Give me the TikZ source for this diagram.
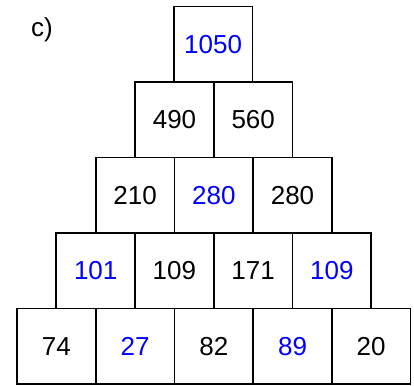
\documentclass[tikz,border=0pt]{standalone}
\usepackage{fontspec}
\setmainfont{Liberation Sans}
\usepackage{xcolor}
\usetikzlibrary{positioning}

\tikzset{
  cell/.style={draw, line width=1.8pt, minimum width=78.7pt, minimum height=75.5pt,
    inner sep=0pt, outer sep=0pt, font=\fontsize{26}{31}\selectfont},
  given/.style={cell, text=black},
  found/.style={cell, text=blue}
}

\begin{document}
\begin{tikzpicture}[x=1pt,y=-1pt]
        \useasboundingbox (0,0) rectangle (414,385);

        % Label
        \node[font=\fontsize{26}{31}\selectfont] (lbl) at (42,30) {c)};

        % Top row
        \node[found] (e1) at (213.1,44.3) {1050};

        % Second row
        \node[given] (d1) at (174.5,119.8) {490};
        \node[given] (d2) at (253.2,119.8) {560};

        % Third row
        \node[given] (c1) at (135.1,195.3) {210};
        \node[found] (c2) at (213.8,195.3) {280};
        \node[given] (c3) at (292.5,195.3) {280};

        % Fourth row
        \node[found] (b1) at (95.7,270.8) {101};
        \node[given] (b2) at (174.4,270.8) {109};
        \node[given] (b3) at (253.1,270.8) {171};
        \node[found] (b4) at (331.8,270.8) {109};

        % Bottom row
        \node[given] (a1) at (56.4,346.3) {74};
        \node[found] (a2) at (135.1,346.3) {27};
        \node[given] (a3) at (213.8,346.3) {82};
        \node[found] (a4) at (292.5,346.3) {89};
        \node[given] (a5) at (371.2,346.3) {20};
    \end{tikzpicture}
\end{document}
